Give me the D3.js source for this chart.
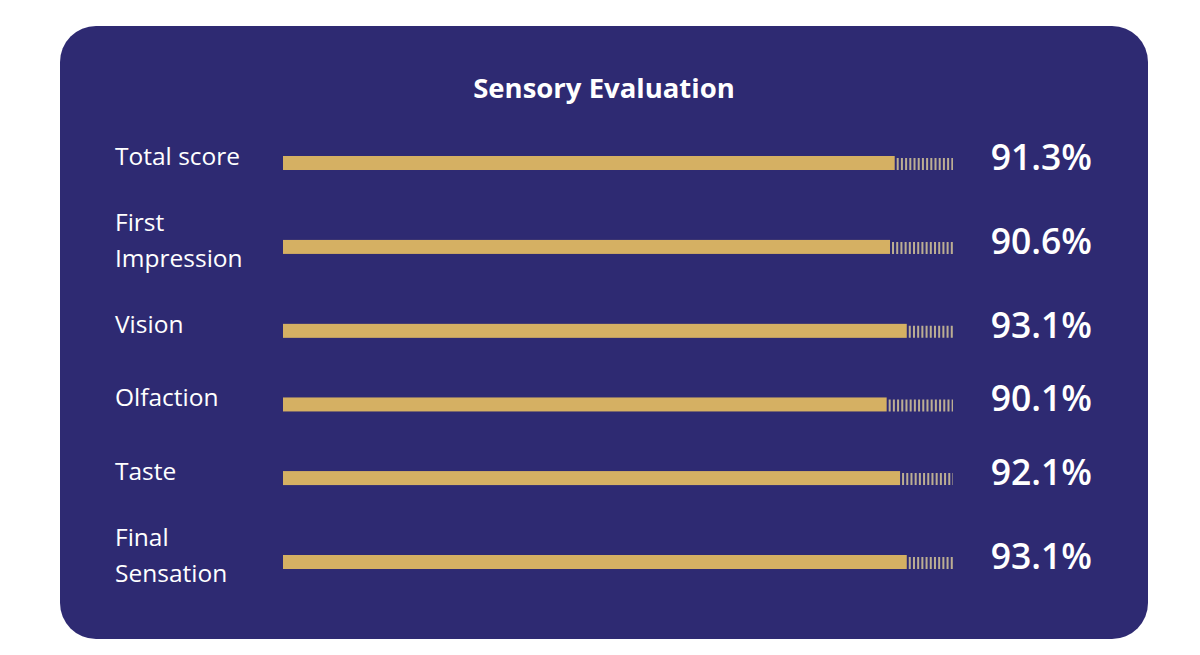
<!DOCTYPE html>
<html>
<head>
<meta charset="utf-8">
<script src="https://cdn.jsdelivr.net/npm/d3@7"></script>
<style>
  body { margin:0; background:#fff; }
  text { font-family:"Open Sans", sans-serif; }
</style>
</head>
<body>
<div id="chart-area"></div>
<script>

// data
var labels = [["Total score"], ["First", "Impression"], ["Vision"], ["Olfaction"], ["Taste"], ["Final", "Sensation"]];
var values = [91.3, 90.6, 93.1, 90.1, 92.1, 93.1];
var title = "Sensory Evaluation";

var width = 1200, height = 655;

var svg = d3.select("#chart-area")
    .append("svg")
    .attr("width", width)
    .attr("height", height);

// panel
svg.append("rect")
    .attr("x", 60)
    .attr("y", 26)
    .attr("width", 1088)
    .attr("height", 613)
    .attr("rx", 36)
    .attr("fill", "#2e2a72");

svg.append("text")
    .attr("x", 604)
    .attr("y", 98)
    .attr("text-anchor", "middle")
    .attr("font-size", "27.5px")
    .attr("font-weight", 700)
    .attr("fill", "#fff")
    .text(title);

// row positions: two-line labels take a bit more room
var rowH = labels.map(function(l){ return l.length > 1 ? 1.28 : 1; });
var centers = [];
var acc = 0;
rowH.forEach(function(h, i){
    acc += h / 2;
    centers.push(acc);
    acc += h / 2;
});

var y = d3.scaleLinear()
    .domain([centers[0], centers[centers.length - 1]])
    .range([163, 562]);

var x = d3.scaleLinear()
    .domain([0, 100])
    .range([283, 953]);

var barH = 14;

var rows = svg.selectAll(".row")
    .data(values)
    .enter()
    .append("g")
    .attr("class", "row")
    .attr("transform", function(d, i){ return "translate(0," + y(centers[i]) + ")"; });

// dashed remainder
rows.append("line")
    .attr("x1", function(d){ return x(d) + 2; })
    .attr("x2", x(100))
    .attr("y1", 1)
    .attr("y2", 1)
    .attr("stroke", "#bcae93")
    .attr("stroke-width", 12)
    .attr("stroke-dasharray", "2,2.2");

rows.append("rect")
    .attr("x", x(0))
    .attr("y", -barH / 2)
    .attr("width", function(d){ return x(d) - x(0); })
    .attr("height", barH)
    .attr("fill", "#d5b063");

// labels
rows.append("text")
    .attr("x", 115)
    .attr("fill", "#fff")
    .attr("font-size", "24.5px")
    .each(function(d, i){
        var lines = labels[i];
        var t = d3.select(this);
        var lh = 36;
        var startY = 2 - (lines.length - 1) * lh / 2;
        lines.forEach(function(s, j){
            t.append("tspan")
                .attr("x", 115)
                .attr("y", startY + j * lh)
                .text(s);
        });
    });

// values
rows.append("text")
    .attr("x", 1092)
    .attr("y", 7)
    .attr("text-anchor", "end")
    .attr("font-size", "35.5px")
    .attr("font-weight", 600)
    .attr("fill", "#fff")
    .text(function(d){ return d.toFixed(1) + "%"; });

</script>
</body>
</html>
